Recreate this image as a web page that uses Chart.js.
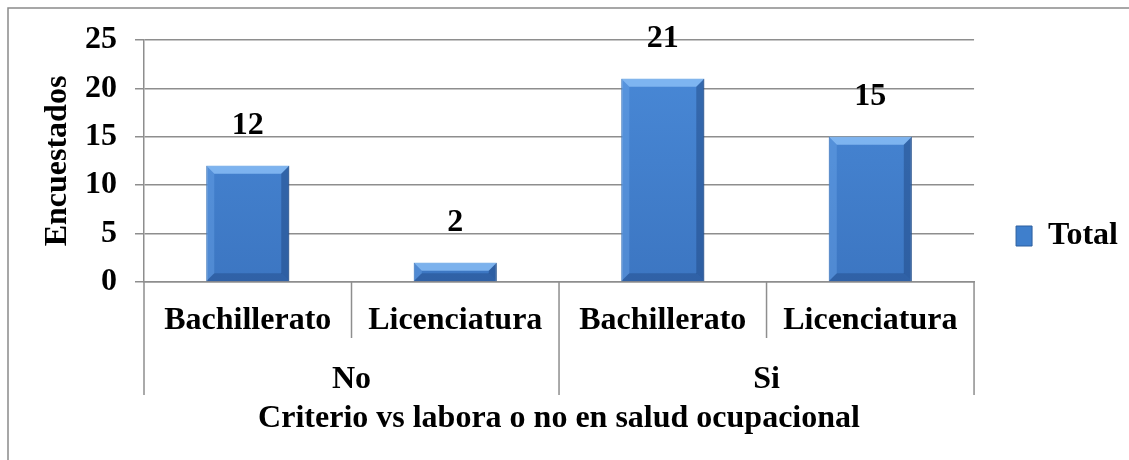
<!DOCTYPE html>
<html>
<head>
<meta charset="utf-8">
<script src="https://cdn.jsdelivr.net/npm/chart.js@4.4.0/dist/chart.umd.min.js"></script>
<style>
  html, body { margin: 0; padding: 0; background: #fff; }
  #wrap { width: 1129px; height: 460px; position: relative; }
</style>
</head>
<body>
<div id="wrap"><canvas id="chart" width="1129" height="460"></canvas></div>
<script>
var categories = ['Bachillerato', 'Licenciatura', 'Bachillerato', 'Licenciatura'];
var groups = ['No', 'Si'];
var groupSizes = [2, 2];
var totals = [12, 2, 21, 15];
var yTicks = [0, 5, 10, 15, 20, 25];

var FONT = "'Liberation Serif', 'Times New Roman', serif";
var GRID = '#8e8e8e';

// outer frame, group labels and separators under the categories
var extrasPlugin = {
  id: 'extras',
  beforeDraw: function (chart) {
    var ctx = chart.ctx;
    ctx.save();
    ctx.fillStyle = '#fff';
    ctx.fillRect(0, 0, chart.width, chart.height);
    ctx.strokeStyle = '#8a8a8a';
    ctx.lineWidth = 1.5;
    ctx.strokeRect(8, 8, chart.width + 20, chart.height + 20);
    ctx.restore();
  },
  afterDraw: function (chart) {
    var ctx = chart.ctx;
    var x = chart.scales.x;
    var top = chart.chartArea.bottom;
    var half = (x.getPixelForValue(1) - x.getPixelForValue(0)) / 2;
    ctx.save();
    ctx.strokeStyle = GRID;
    ctx.lineWidth = 1.5;
    var idx = 0;
    for (var g = 0; g < groups.length; g++) {
      var start = idx;
      for (var k = 0; k < groupSizes[g]; k++) {
        var bx = x.getPixelForValue(idx) - half;
        var len = (k === 0) ? 113 : 56;
        ctx.beginPath();
        ctx.moveTo(bx, top);
        ctx.lineTo(bx, top + len);
        ctx.stroke();
        idx++;
      }
      var cx = (x.getPixelForValue(start) + x.getPixelForValue(idx - 1)) / 2;
      ctx.fillStyle = '#000';
      ctx.font = 'bold 32px ' + FONT;
      ctx.textAlign = 'center';
      ctx.textBaseline = 'middle';
      ctx.fillText(groups[g], cx, top + 98);
    }
    var ex = x.getPixelForValue(idx - 1) + half;
    ctx.beginPath();
    ctx.moveTo(ex, top);
    ctx.lineTo(ex, top + 113);
    ctx.stroke();
    ctx.restore();
  },
  afterDatasetsDraw: function (chart) {
    var ctx = chart.ctx;
    var meta = chart.getDatasetMeta(0);
    ctx.save();
    meta.data.forEach(function (bar, i) {
      var l = bar.x - bar.width / 2, r = bar.x + bar.width / 2;
      var t = bar.y, b = bar.base;
      var d = Math.min(8, (b - t) / 2);
      // bevel edges
      ctx.fillStyle = 'rgba(140,192,248,0.8)';
      ctx.beginPath();
      ctx.moveTo(l, t); ctx.lineTo(r, t); ctx.lineTo(r - d, t + d); ctx.lineTo(l + d, t + d);
      ctx.closePath(); ctx.fill();
      ctx.fillStyle = 'rgba(110,168,235,0.4)';
      ctx.beginPath();
      ctx.moveTo(l, t); ctx.lineTo(l + d, t + d); ctx.lineTo(l + d, b - d); ctx.lineTo(l, b);
      ctx.closePath(); ctx.fill();
      ctx.fillStyle = 'rgba(25,60,115,0.4)';
      ctx.beginPath();
      ctx.moveTo(r, t); ctx.lineTo(r - d, t + d); ctx.lineTo(r - d, b - d); ctx.lineTo(r, b);
      ctx.closePath(); ctx.fill();
      ctx.fillStyle = 'rgba(25,60,115,0.35)';
      ctx.beginPath();
      ctx.moveTo(l, b); ctx.lineTo(l + d, b - d); ctx.lineTo(r - d, b - d); ctx.lineTo(r, b);
      ctx.closePath(); ctx.fill();
      // value label
      ctx.fillStyle = '#000';
      ctx.font = 'bold 32px ' + FONT;
      ctx.textAlign = 'center';
      ctx.textBaseline = 'middle';
      ctx.fillText(String(totals[i]), bar.x, t - 40);
    });
    ctx.restore();
  }
};

function barFill(context) {
  var chart = context.chart;
  var area = chart.chartArea;
  if (!area) return '#4080d0';
  var g = chart.ctx.createLinearGradient(0, area.top, 0, area.bottom);
  g.addColorStop(0, '#4a8ad8');
  g.addColorStop(1, '#3c76c2');
  return g;
}

new Chart(document.getElementById('chart'), {
  type: 'bar',
  data: {
    labels: categories,
    datasets: [{
      label: 'Total',
      data: totals,
      backgroundColor: barFill,
      borderColor: '#2d5f9e',
      borderWidth: 1,
      categoryPercentage: 0.4,
      barPercentage: 1
    }]
  },
  plugins: [extrasPlugin],
  options: {
    responsive: false,
    animation: false,
    devicePixelRatio: 1,
    layout: { padding: { top: 40, bottom: 28, left: 0, right: 1 } },
    plugins: {
      tooltip: { enabled: false },
      legend: {
        position: 'right',
        labels: {
          boxWidth: 16,
          boxHeight: 20,
          padding: 42,
          color: '#000',
          font: { family: FONT, size: 32, weight: 'bold' },
          generateLabels: function (chart) {
            return [{
              text: 'Total',
              fillStyle: '#3f7fcc',
              strokeStyle: '#2d5f9e',
              lineWidth: 1,
              datasetIndex: 0
            }];
          }
        }
      }
    },
    scales: {
      x: {
        grid: { display: false, drawTicks: false },
        border: { display: true, color: GRID, width: 1.5 },
        ticks: {
          color: '#000',
          padding: 20,
          autoSkip: false,
          maxRotation: 0,
          font: { family: FONT, size: 32, weight: 'bold' }
        },
        title: {
          display: true,
          text: 'Criterio vs labora o no en salud ocupacional',
          color: '#000',
          font: { family: FONT, size: 32, weight: 'bold', lineHeight: 0.8 },
          padding: { top: 0, bottom: 0 }
        },
        afterFit: function (scale) { scale.height = 150; }
      },
      y: {
        min: 0,
        max: 25,
        afterBuildTicks: function (scale) {
          scale.ticks = yTicks.map(function (v) { return { value: v }; });
        },
        grid: { color: GRID, lineWidth: 1.5, tickLength: 9, tickColor: GRID },
        border: { display: true, color: GRID, width: 1.5 },
        ticks: {
          color: '#000',
          padding: 18,
          font: { family: FONT, size: 32, weight: 'bold' }
        },
        title: {
          display: true,
          text: 'Encuestados',
          color: '#000',
          font: { family: FONT, size: 32, weight: 'bold' },
          padding: { top: 39, bottom: 0 }
        },
        afterFit: function (scale) { scale.width = 144; }
      }
    }
  }
});
</script>
</body>
</html>
